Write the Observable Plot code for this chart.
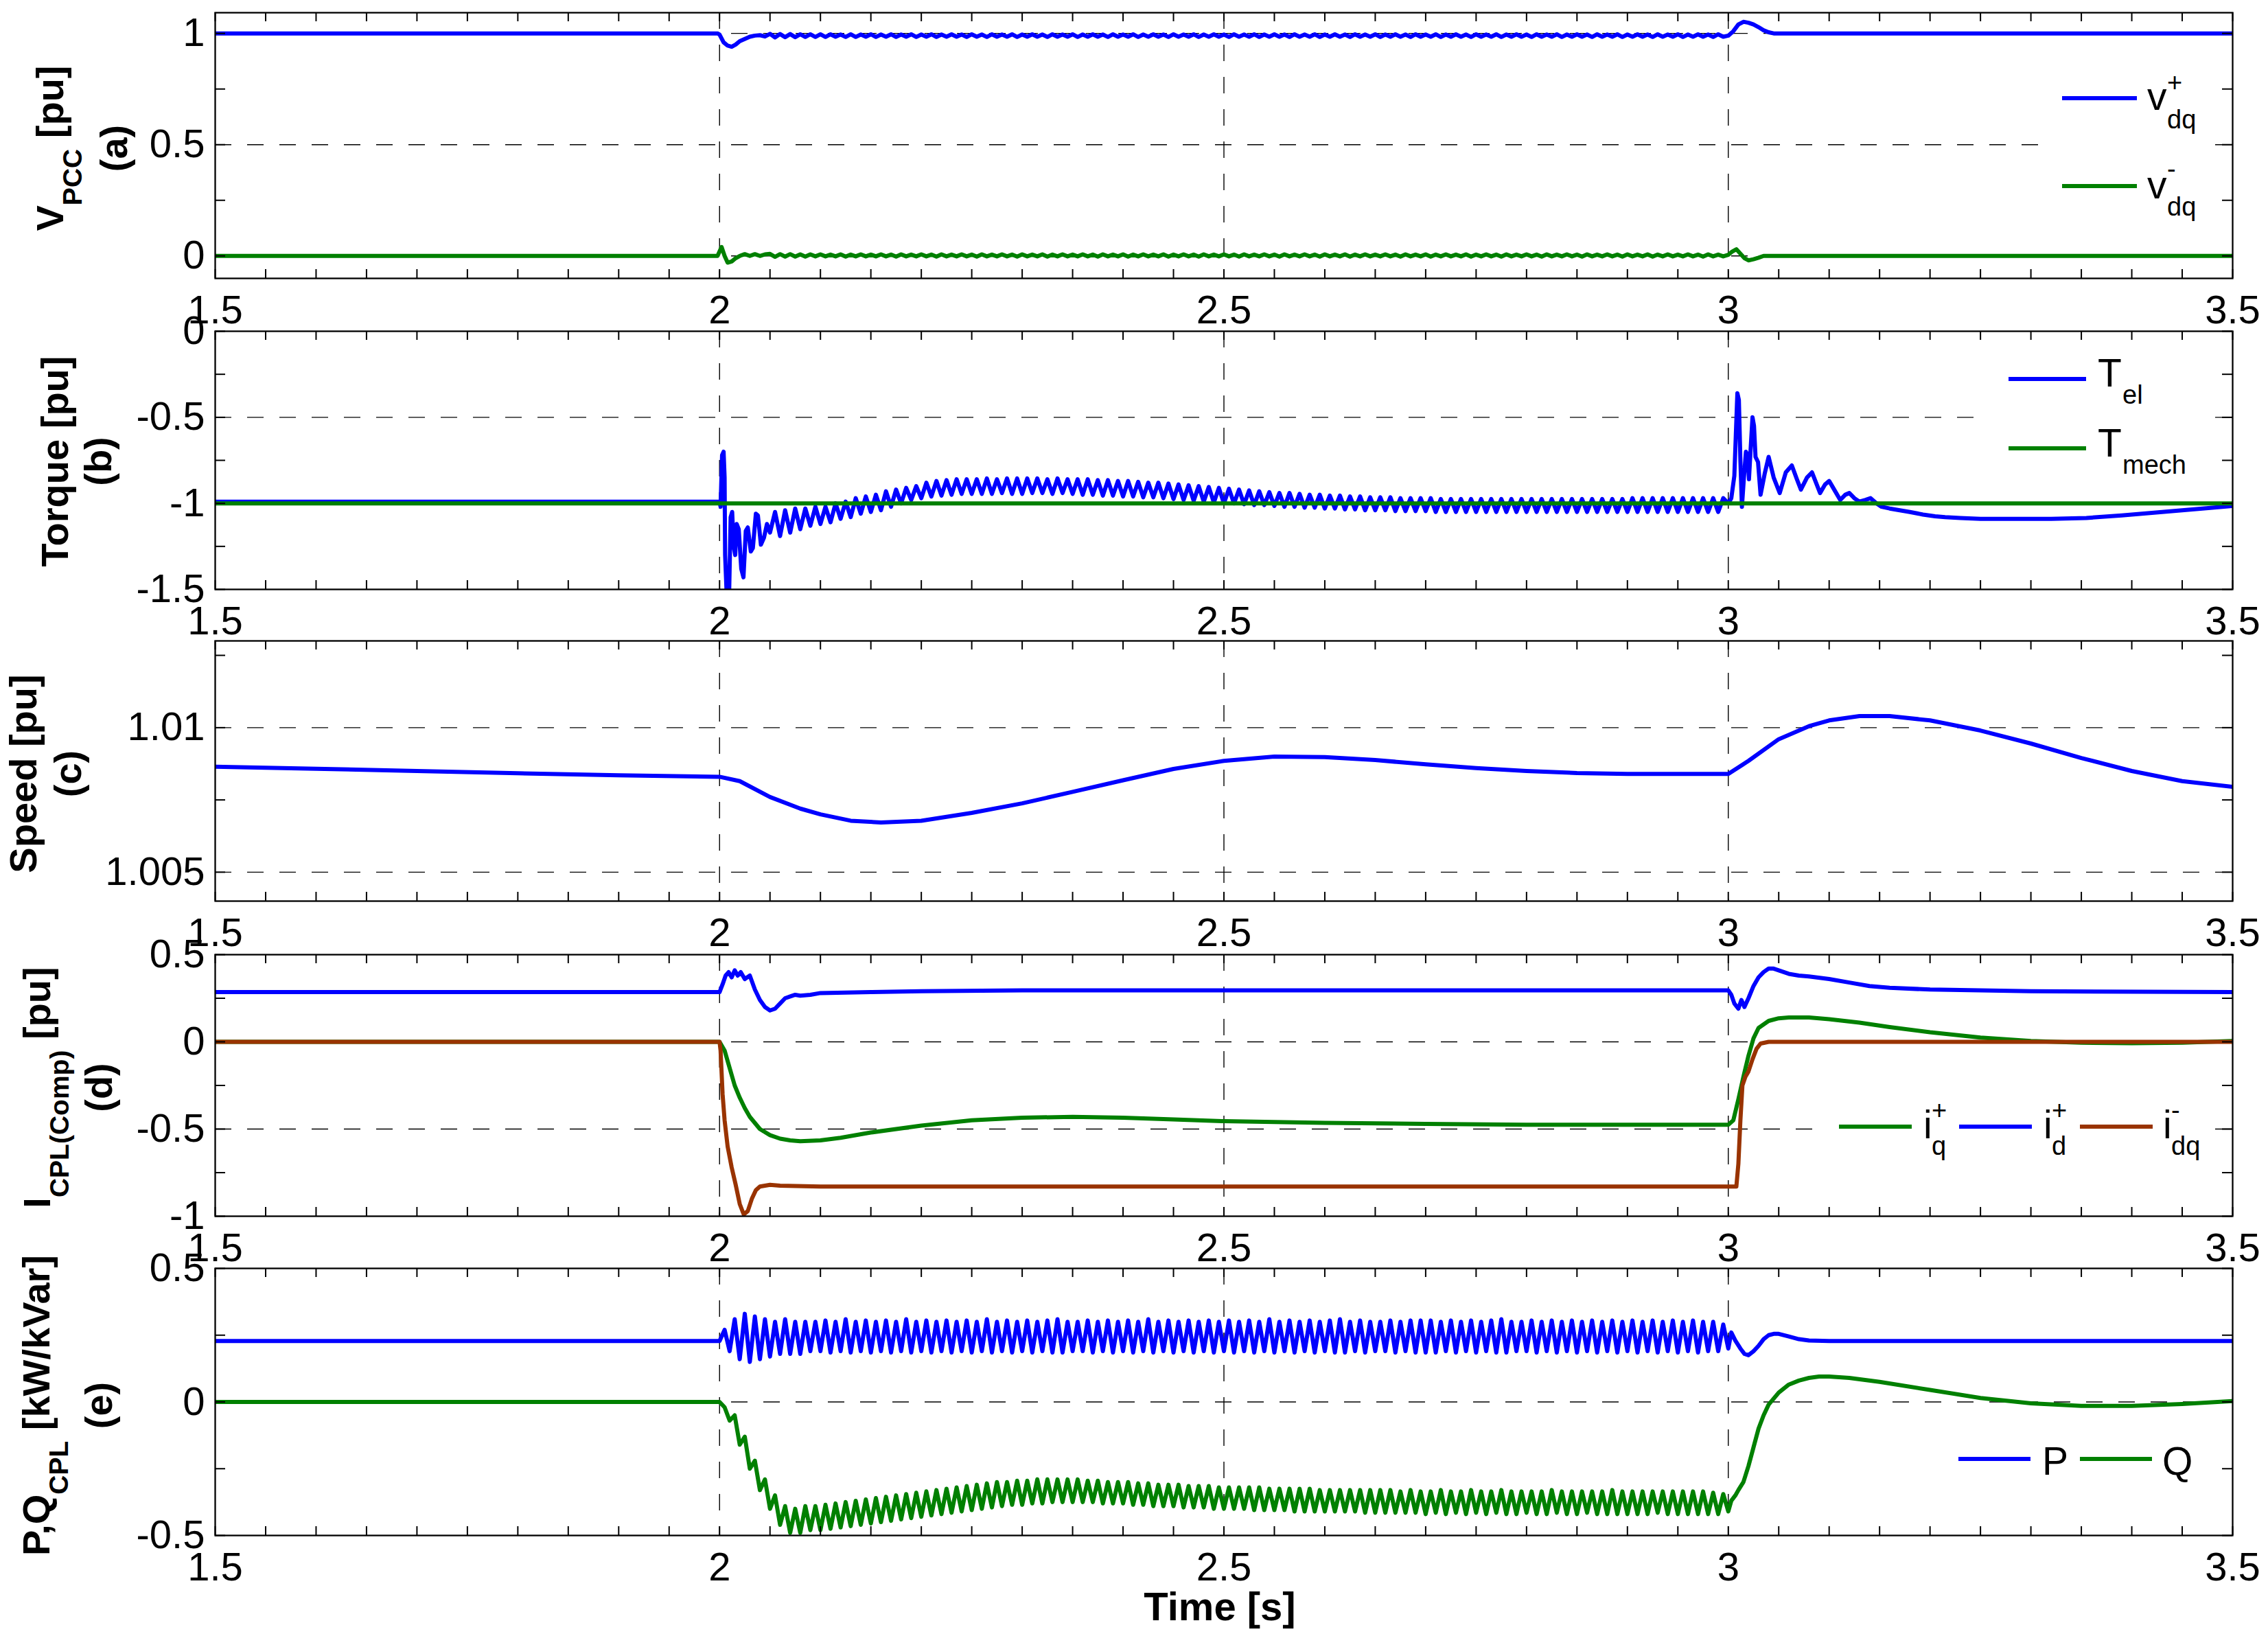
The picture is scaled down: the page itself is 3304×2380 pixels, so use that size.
<!DOCTYPE html>
<html><head><meta charset="utf-8">
<script src="https://cdn.jsdelivr.net/npm/d3@7"></script>
<script src="https://cdn.jsdelivr.net/npm/@observablehq/plot@0.6"></script>
<style>
body{margin:0;background:#fff;}
#fig{position:relative;width:3304px;height:2380px;background:#fff;}
</style></head><body><div id="fig"></div>
<script>
// ---------------- data ----------------
const STEP = 0.005;               // sample step of the ripple segments
const xLabels = [1.5, 2, 2.5, 3, 3.5];
const xGrid = [2, 2.5, 3];

// (a) PCC voltage
const vPosPre = [[1.5,1.0],[1.998,1.0],[2.0,0.995],[2.004,0.96],[2.008,0.945],[2.012,0.94],[2.016,0.95],[2.02,0.965],[2.025,0.975],[2.03,0.985],[2.035,0.99],[2.04,0.992],[2.045,0.986]];
const vPosRippleStart = 2.05;
const vPosRipple = [
 .998,.982,.997,.983,.997,.983,.996,.984,.996,.984,
 .996,.984,.996,.985,.995,.984,.996,.984,.995,.985,
 .996,.984,.995,.985,.996,.984,.995,.985,.996,.984,
 .995,.985,.996,.984,.995,.985,.996,.985,.995,.984,
 .996,.985,.995,.984,.996,.985,.995,.985,.996,.984,
 .995,.985,.996,.985,.995,.984,.996,.985,.995,.985,
 .996,.984,.995,.985,.996,.985,.995,.984,.996,.985,
 .995,.985,.996,.984,.995,.985,.996,.985,.995,.984,
 .996,.985,.995,.985,.996,.984,.995,.985,.996,.985,
 .995,.984,.996,.985,.995,.985,.996,.984,.995,.985,
 .996,.985,.995,.984,.996,.985,.995,.985,.996,.984,
 .995,.985,.996,.985,.995,.984,.996,.985,.995,.985,
 .996,.984,.995,.985,.996,.985,.995,.984,.996,.985,
 .995,.985,.996,.984,.995,.985,.996,.985,.995,.984,
 .996,.985,.995,.985,.996,.984,.995,.985,.996,.985,
 .995,.984,.996,.985,.995,.985,.996,.984,.995,.985,
 .996,.985,.995,.984,.996,.985,.995,.985,.996,.984,
 .995,.985,.996,.985,.995,.984,.996,.985,.995,.985,
 .996,.984,.995,.985,.996,.985,.995,.984,.996,.985];
const vPosPost = [[3.0,0.99],[3.005,1.01],[3.01,1.04],[3.015,1.052],[3.02,1.048],[3.025,1.04],[3.03,1.028],[3.035,1.014],[3.04,1.005],[3.045,1.0],[3.5,1.0]];

const vNegPre = [[1.5,0],[1.998,0],[2.0,0.02],[2.002,0.04],[2.005,0.0],[2.008,-0.03],[2.012,-0.025],[2.016,-0.01],[2.02,0.0],[2.025,0.008],[2.03,0.0],[2.035,0.008],[2.04,0.0],[2.045,0.007]];
const vNegRippleStart = 2.05;
const vNegRipple = [
 .009,-.004,.008,-.003,.008,-.003,.007,-.003,.007,-.002,
 .007,-.002,.006,-.002,.007,-.003,.006,-.002,.007,-.002,
 .006,-.002,.007,-.002,.006,-.003,.007,-.002,.006,-.002,
 .007,-.002,.006,-.003,.007,-.002,.006,-.002,.007,-.002,
 .006,-.003,.007,-.002,.006,-.002,.007,-.002,.006,-.003,
 .007,-.002,.006,-.002,.007,-.003,.006,-.002,.007,-.002,
 .006,-.002,.007,-.002,.006,-.003,.007,-.002,.006,-.002,
 .007,-.003,.006,-.002,.007,-.002,.006,-.002,.007,-.003,
 .006,-.002,.007,-.002,.006,-.003,.007,-.002,.006,-.002,
 .007,-.002,.006,-.003,.007,-.002,.006,-.002,.007,-.002,
 .006,-.003,.007,-.002,.006,-.002,.007,-.002,.006,-.003,
 .007,-.002,.006,-.002,.007,-.003,.006,-.002,.007,-.002,
 .006,-.002,.007,-.002,.006,-.003,.007,-.002,.006,-.002,
 .007,-.003,.006,-.002,.007,-.002,.006,-.002,.007,-.003,
 .006,-.002,.007,-.002,.006,-.003,.007,-.002,.006,-.002,
 .007,-.002,.006,-.003,.007,-.002,.006,-.002,.007,-.002,
 .006,-.003,.007,-.002,.006,-.002,.007,-.002,.006,-.003,
 .007,-.002,.006,-.002,.007,-.003,.006,-.002,.007,-.002,
 .006,-.002,.007,-.002,.006,-.003,.007,-.002,.006,-.002];
const vNegPost = [[3.0,0.005],[3.004,0.02],[3.008,0.03],[3.012,0.01],[3.016,-0.01],[3.02,-0.02],[3.025,-0.015],[3.03,-0.008],[3.035,0.0],[3.5,0.0]];

// (b) torque
const tMech = [[1.5,-1.0],[3.5,-1.0]];
const tElPre = [[1.5,-0.99],[2.0,-0.99],[2.001,-1.02],[2.0025,-0.72],[2.004,-0.70],[2.005,-0.85],[2.0055,-1.3],[2.007,-1.52],[2.0095,-1.52],[2.011,-1.08],[2.0125,-1.05],[2.014,-1.25],[2.0155,-1.3],[2.017,-1.12],[2.019,-1.15],[2.0215,-1.38],[2.0237,-1.43],[2.026,-1.16],[2.028,-1.14],[2.031,-1.28],[2.033,-1.26],[2.036,-1.06],[2.038,-1.07],[2.041,-1.24],[2.044,-1.2],[2.047,-1.12]];
const tElRippleStart = 2.05;
const tElRipple = [
 -1.17,-1.05,-1.19,-1.04,-1.17,-1.03,-1.15,-1.03,-1.13,-1.02,
 -1.12,-1.02,-1.11,-1.0,-1.09,-0.99,-1.08,-0.97,-1.06,-0.96,
 -1.05,-0.95,-1.04,-0.93,-1.02,-0.92,-1.0,-0.91,-0.98,-0.90,
 -0.97,-0.88,-0.96,-0.87,-0.955,-0.865,-0.95,-0.86,-0.945,-0.86,
 -0.945,-0.86,-0.945,-0.855,-0.945,-0.86,-0.94,-0.855,-0.945,-0.855,
 -0.945,-0.855,-0.94,-0.855,-0.94,-0.86,-0.945,-0.855,-0.94,-0.86,
 -0.945,-0.86,-0.95,-0.86,-0.95,-0.865,-0.955,-0.865,-0.955,-0.87,
 -0.96,-0.87,-0.96,-0.875,-0.965,-0.88,-0.965,-0.88,-0.97,-0.885,
 -0.975,-0.89,-0.98,-0.895,-0.985,-0.90,-0.99,-0.905,-0.995,-0.91,
 -1.0,-0.915,-1.0,-0.92,-1.005,-0.925,-1.01,-0.93,-1.01,-0.935,
 -1.015,-0.94,-1.02,-0.94,-1.02,-0.945,-1.025,-0.95,-1.025,-0.95,
 -1.03,-0.955,-1.03,-0.955,-1.035,-0.96,-1.035,-0.96,-1.04,-0.965,
 -1.04,-0.965,-1.04,-0.965,-1.045,-0.97,-1.045,-0.97,-1.045,-0.97,
 -1.045,-0.97,-1.05,-0.975,-1.05,-0.975,-1.05,-0.975,-1.05,-0.975,
 -1.05,-0.975,-1.05,-0.975,-1.05,-0.975,-1.05,-0.975,-1.05,-0.975,
 -1.05,-0.975,-1.05,-0.975,-1.05,-0.975,-1.05,-0.975,-1.05,-0.975,
 -1.05,-0.975,-1.05,-0.975,-1.05,-0.975,-1.05,-0.975,-1.05,-0.975,
 -1.05,-0.97,-1.05,-0.97,-1.05,-0.97,-1.05,-0.97,-1.05,-0.97,
 -1.05,-0.97,-1.05,-0.97,-1.05,-0.97,-1.05,-0.97,-1.05,-0.97];
const tElPost = [[3.0,-1.0],[3.003,-0.97],[3.006,-0.84],[3.0075,-0.6],[3.009,-0.36],[3.0105,-0.40],[3.012,-0.75],[3.0135,-1.02],[3.0155,-0.85],[3.0175,-0.70],[3.019,-0.72],[3.0205,-0.86],[3.022,-0.7],[3.024,-0.50],[3.0255,-0.55],[3.027,-0.73],[3.0295,-0.76],[3.032,-0.95],[3.036,-0.83],[3.04,-0.73],[3.045,-0.85],[3.051,-0.94],[3.057,-0.82],[3.063,-0.78],[3.068,-0.86],[3.072,-0.92],[3.078,-0.85],[3.083,-0.82],[3.087,-0.88],[3.091,-0.94],[3.096,-0.89],[3.1,-0.87],[3.105,-0.92],[3.111,-0.98],[3.116,-0.95],[3.12,-0.94],[3.125,-0.97],[3.13,-0.99],[3.136,-0.98],[3.141,-0.97],[3.147,-1.0],[3.152,-1.02],[3.16,-1.03],[3.17,-1.04],[3.18,-1.05],[3.193,-1.065],[3.205,-1.075],[3.215,-1.08],[3.23,-1.085],[3.25,-1.09],[3.3,-1.09],[3.32,-1.09],[3.355,-1.085],[3.39,-1.07],[3.43,-1.05],[3.47,-1.03],[3.5,-1.015]];

// (c) speed
const speed = [[1.5,1.00865],[1.6,1.00858],[1.7,1.0085],[1.8,1.00842],[1.9,1.00835],[2.0,1.0083],[2.02,1.00815],[2.05,1.0076],[2.08,1.0072],[2.1,1.0070],[2.13,1.00678],[2.16,1.00672],[2.2,1.00678],[2.25,1.00705],[2.3,1.00738],[2.35,1.00778],[2.4,1.00818],[2.45,1.00857],[2.5,1.00885],[2.55,1.009],[2.6,1.00898],[2.65,1.00888],[2.7,1.00873],[2.75,1.0086],[2.8,1.0085],[2.85,1.00843],[2.9,1.0084],[2.95,1.0084],[3.0,1.0084],[3.02,1.00885],[3.05,1.0096],[3.08,1.01005],[3.1,1.01025],[3.13,1.0104],[3.16,1.0104],[3.2,1.01025],[3.25,1.0099],[3.3,1.00945],[3.35,1.00895],[3.4,1.0085],[3.45,1.00815],[3.5,1.00795]];

// (d) compensating currents
const iqPos = [[1.5,0],[2.0,0],[2.005,-0.05],[2.01,-0.15],[2.015,-0.25],[2.02,-0.32],[2.025,-0.38],[2.03,-0.43],[2.04,-0.5],[2.05,-0.535],[2.06,-0.555],[2.07,-0.565],[2.08,-0.57],[2.1,-0.565],[2.12,-0.55],[2.15,-0.52],[2.2,-0.48],[2.25,-0.45],[2.3,-0.435],[2.35,-0.43],[2.4,-0.435],[2.45,-0.445],[2.5,-0.455],[2.6,-0.465],[2.7,-0.47],[2.8,-0.475],[2.9,-0.475],[3.0,-0.475],[3.005,-0.45],[3.01,-0.33],[3.015,-0.2],[3.02,-0.08],[3.025,0.02],[3.03,0.08],[3.04,0.12],[3.05,0.135],[3.06,0.14],[3.08,0.14],[3.1,0.13],[3.13,0.11],[3.16,0.085],[3.2,0.055],[3.25,0.025],[3.3,0.005],[3.35,-0.005],[3.4,-0.008],[3.45,-0.005],[3.5,0.005]];
const idPos = [[1.5,0.285],[2.0,0.285],[2.003,0.33],[2.006,0.38],[2.009,0.40],[2.012,0.37],[2.015,0.41],[2.018,0.38],[2.021,0.40],[2.025,0.36],[2.03,0.38],[2.035,0.30],[2.04,0.24],[2.045,0.20],[2.05,0.18],[2.055,0.19],[2.06,0.22],[2.065,0.25],[2.07,0.26],[2.075,0.27],[2.08,0.265],[2.09,0.27],[2.1,0.28],[2.15,0.285],[2.2,0.29],[2.3,0.295],[2.5,0.295],[2.8,0.295],[3.0,0.295],[3.003,0.27],[3.006,0.22],[3.01,0.19],[3.013,0.24],[3.016,0.20],[3.02,0.25],[3.025,0.32],[3.03,0.37],[3.035,0.40],[3.04,0.42],[3.045,0.42],[3.05,0.41],[3.06,0.39],[3.07,0.38],[3.08,0.375],[3.1,0.36],[3.12,0.34],[3.14,0.32],[3.16,0.31],[3.2,0.30],[3.3,0.29],[3.5,0.285]];
const idqNeg = [[1.5,0],[2.0,0],[2.001,-0.05],[2.003,-0.3],[2.005,-0.45],[2.008,-0.6],[2.012,-0.72],[2.016,-0.82],[2.02,-0.93],[2.024,-0.99],[2.028,-0.97],[2.032,-0.9],[2.036,-0.85],[2.04,-0.83],[2.05,-0.82],[2.06,-0.825],[2.1,-0.83],[2.5,-0.83],[3.0,-0.83],[3.008,-0.83],[3.01,-0.7],[3.012,-0.45],[3.014,-0.25],[3.017,-0.2],[3.02,-0.17],[3.024,-0.1],[3.028,-0.04],[3.032,-0.01],[3.04,0.0],[3.5,0.0]];

// (e) CPL power
const pPre = [[1.5,0.228],[2.0,0.228]];
const pRippleStart = 2.005;
const pRipple = [
 .27,.19,.31,.16,.33,.15,.32,.16,.31,.17,
 .30,.18,.31,.18,.30,.18,.30,.19,.30,.19,
 .305,.185,.30,.19,.31,.185,.30,.19,.305,.185,
 .30,.19,.305,.185,.30,.19,.31,.185,.30,.19,
 .305,.185,.30,.19,.305,.185,.30,.19,.305,.185,
 .30,.19,.31,.185,.30,.19,.305,.185,.30,.19,
 .305,.185,.30,.19,.305,.185,.31,.185,.30,.19,
 .30,.19,.305,.185,.30,.19,.305,.185,.30,.19,
 .305,.185,.30,.19,.31,.185,.30,.19,.305,.185,
 .30,.19,.305,.185,.30,.19,.305,.185,.30,.19,
 .305,.185,.30,.19,.305,.185,.30,.19,.31,.185,
 .30,.19,.305,.185,.30,.19,.305,.185,.30,.19,
 .305,.185,.31,.185,.30,.19,.305,.185,.30,.19,
 .30,.19,.305,.185,.30,.19,.305,.185,.305,.185,
 .305,.185,.30,.19,.305,.185,.30,.19,.305,.185,
 .30,.19,.305,.185,.31,.185,.30,.19,.30,.19,
 .305,.185,.30,.19,.305,.185,.30,.19,.305,.185,
 .30,.19,.305,.185,.30,.19,.305,.185,.30,.19,
 .305,.185,.30,.19,.305,.185,.30,.19,.305,.185,
 .30,.19,.305,.185,.30,.19,.30,.19,.29,.20];
const pPost = [[3.003,0.26],[3.007,0.23],[3.012,0.2],[3.016,0.18],[3.02,0.175],[3.025,0.19],[3.03,0.21],[3.035,0.235],[3.04,0.25],[3.045,0.255],[3.05,0.255],[3.06,0.245],[3.07,0.235],[3.08,0.23],[3.1,0.228],[3.5,0.228]];

const qPre = [[1.5,0],[2.0,0]];
const qRippleStart = 2.005;
const qRipple = [
 -.02,-.07,-.05,-.16,-.13,-.25,-.22,-.33,-.29,-.40,
 -.35,-.46,-.39,-.49,-.40,-.49,-.39,-.48,-.39,-.48,
 -.385,-.475,-.38,-.47,-.375,-.465,-.37,-.46,-.365,-.455,
 -.36,-.45,-.355,-.445,-.35,-.44,-.345,-.435,-.34,-.43,
 -.335,-.425,-.33,-.42,-.325,-.415,-.32,-.41,-.315,-.405,
 -.31,-.40,-.305,-.395,-.30,-.39,-.30,-.385,-.295,-.385,
 -.295,-.38,-.29,-.38,-.29,-.375,-.29,-.375,-.29,-.375,
 -.29,-.375,-.295,-.375,-.295,-.38,-.30,-.38,-.30,-.38,
 -.30,-.385,-.305,-.385,-.305,-.39,-.31,-.39,-.31,-.39,
 -.31,-.395,-.315,-.395,-.315,-.395,-.315,-.40,-.32,-.40,
 -.32,-.40,-.32,-.40,-.32,-.405,-.32,-.405,-.325,-.405,
 -.325,-.405,-.325,-.41,-.325,-.41,-.325,-.41,-.33,-.41,
 -.33,-.41,-.33,-.41,-.33,-.41,-.33,-.415,-.33,-.415,
 -.33,-.415,-.33,-.415,-.335,-.415,-.33,-.415,-.335,-.42,
 -.335,-.415,-.33,-.42,-.335,-.415,-.335,-.42,-.33,-.415,
 -.335,-.42,-.335,-.415,-.33,-.42,-.335,-.42,-.335,-.415,
 -.335,-.42,-.335,-.42,-.33,-.415,-.335,-.42,-.335,-.42,
 -.335,-.415,-.335,-.42,-.335,-.42,-.33,-.42,-.335,-.42,
 -.335,-.42,-.335,-.42,-.335,-.415,-.335,-.42,-.335,-.42,
 -.335,-.42,-.335,-.42,-.335,-.42,-.34,-.42,-.345,-.41];
const qPost = [[3.003,-0.37],[3.007,-0.35],[3.01,-0.33],[3.015,-0.3],[3.02,-0.24],[3.025,-0.17],[3.03,-0.1],[3.035,-0.05],[3.04,-0.01],[3.05,0.035],[3.06,0.065],[3.07,0.08],[3.08,0.09],[3.09,0.095],[3.1,0.095],[3.12,0.09],[3.15,0.075],[3.2,0.045],[3.25,0.015],[3.3,-0.005],[3.35,-0.015],[3.4,-0.015],[3.45,-0.008],[3.5,0.003]];

// ---------------- build tables ----------------
function build(pre, ripple, start, post) {
  const out = pre.map(([t, v]) => ({t, v}));
  (ripple || []).forEach((v, i) => out.push({t: start + i * STEP, v}));
  (post || []).forEach(([t, v]) => out.push({t, v}));
  return out;
}
const BLUE = "#0000ff", GREEN = "#008000", BROWN = "#993300";
const FONT = "'Liberation Sans', Arial, Helvetica, sans-serif";
const W = 3304, H = 2380, L = 313, R = 3252;
const LW = 6;

const panels = [
  {top: 18, bottom: 405, domain: [-0.101, 1.093], labels: [0, 0.5, 1], minor: [0, 0.25, 0.5, 0.75, 1], grid: [0, 0.5, 1],
   series: [{d: build(vPosPre, vPosRipple, vPosRippleStart, vPosPost), c: BLUE}, {d: build(vNegPre, vNegRipple, vNegRippleStart, vNegPost), c: GREEN}]},
  {top: 482, bottom: 858, domain: [-1.5, 0], labels: [-1.5, -1, -0.5, 0], minor: [-1.5, -1.25, -1, -0.75, -0.5, -0.25, 0], grid: [-1, -0.5],
   series: [{d: build(tElPre, tElRipple, tElRippleStart, tElPost), c: BLUE}, {d: build(tMech), c: GREEN}]},
  {top: 933, bottom: 1312, domain: [1.004, 1.013], labels: [1.005, 1.01], minor: [1.005, 1.0075, 1.01, 1.0125], grid: [1.005, 1.01],
   series: [{d: build(speed), c: BLUE}]},
  {top: 1390, bottom: 1771, domain: [-1, 0.5], labels: [-1, -0.5, 0, 0.5], minor: [-1, -0.75, -0.5, -0.25, 0, 0.25, 0.5], grid: [-0.5, 0],
   series: [{d: build(iqPos), c: GREEN}, {d: build(idPos), c: BLUE}, {d: build(idqNeg), c: BROWN}]},
  {top: 1847, bottom: 2236, domain: [-0.5, 0.5], labels: [-0.5, 0, 0.5], minor: [-0.5, -0.25, 0, 0.25, 0.5], grid: [0],
   series: [{d: build(pPre, pRipple, pRippleStart, pPost), c: BLUE}, {d: build(qPre, qRipple, qRippleStart, qPost), c: GREEN}]}
];
const xMinor = d3.range(0, 41).map(i => 1.5 + i * 0.05);

const fig = document.getElementById("fig");
const gridStyle = {stroke: "black", strokeOpacity: 1, strokeWidth: 1.4, strokeDasharray: "24,23"};
panels.forEach(p => {
  const mt = 20, mb = 100, h = p.bottom - p.top;
  const svg = Plot.plot({
    width: W, height: h + mt + mb,
    marginLeft: L, marginRight: W - R, marginTop: mt, marginBottom: mb,
    style: {background: "transparent", overflow: "visible", color: "black", fontFamily: FONT, fontSize: "58px", position: "absolute", left: "0px", top: (p.top - mt) + "px"},
    x: {domain: [1.5, 3.5], label: null},
    y: {domain: p.domain, label: null},
    marks: [
      Plot.gridX(xGrid, gridStyle),
      Plot.gridY(p.grid, gridStyle),
      ...p.series.map(s => Plot.line(s.d, {x: "t", y: "v", stroke: s.c, strokeWidth: LW, clip: true})),
      Plot.ruleX(xMinor, {stroke: "black", strokeWidth: 2, insetBottom: h - 13}),
      Plot.ruleX(xMinor, {stroke: "black", strokeWidth: 2, insetTop: h - 13}),
      Plot.ruleY(p.minor, {stroke: "black", strokeWidth: 2, insetRight: (R - L) - 15}),
      Plot.ruleY(p.minor, {stroke: "black", strokeWidth: 2, insetLeft: (R - L) - 15}),
      Plot.frame({stroke: "black", strokeWidth: 2.3}),
      Plot.axisX(xLabels, {anchor: "bottom", tickSize: 0, tickPadding: 24, tickFormat: d => String(d), label: null, fontSize: 58}),
      Plot.axisY(p.labels, {anchor: "left", tickSize: 0, tickPadding: 15, tickFormat: d => String(d), label: null, fontSize: 58})
    ]
  });
  fig.appendChild(svg);
});

// ---------------- overlay: axis titles & legends ----------------
const ov = d3.select(fig).append("svg")
  .attr("width", W).attr("height", H)
  .style("position", "absolute").style("left", "0px").style("top", "0px").style("overflow", "visible")
  .attr("font-family", FONT).style("white-space", "pre");

const yTitles = [
  {cy: 216, x1: 92, x2: 185, line1: [["V"], ["PCC", "sub"], [" [pu]"]], line2: "(a)"},
  {cy: 672, x1: 99, x2: 162, line1: [["Torque [pu]"]], line2: "(b)"},
  {cy: 1127, x1: 53, x2: 118, line1: [["Speed [pu]"]], line2: "(c)"},
  {cy: 1584, x1: 73, x2: 163, line1: [["I"], ["CPL(Comp)", "sub"], ["  [pu]"]], line2: "(d)"},
  {cy: 2047, x1: 72, x2: 163, line1: [["P,Q"], ["CPL", "sub"], [" [kW/kVar]"]], line2: "(e)"}
];
yTitles.forEach(s => {
  const g = ov.append("g").attr("font-weight", "bold").attr("font-size", 56).attr("fill", "black");
  const t1 = g.append("text").attr("transform", `translate(${s.x1},${s.cy}) rotate(-90)`).attr("text-anchor", "middle");
  let shift = 0;
  s.line1.forEach(([str, kind]) => {
    const ts = t1.append("tspan").text(str);
    if (kind === "sub") { ts.attr("font-size", 39).attr("dy", 27); shift = 27; }
    else if (shift) { ts.attr("dy", -shift); shift = 0; }
  });
  g.append("text").attr("transform", `translate(${s.x2},${s.cy}) rotate(-90)`).attr("text-anchor", "middle").text(s.line2);
});

ov.append("text").attr("x", 1777).attr("y", 2360).attr("text-anchor", "middle")
  .attr("font-weight", "bold").attr("font-size", 58).text("Time [s]");

// legends (white background, no border, as in the original)
const legendBoxes = [[2980, 92, 240, 240], [2890, 497, 330, 205], [2650, 1594, 570, 108], [2840, 2088, 380, 92]];
legendBoxes.forEach(([x, y, w, h]) => ov.append("rect").attr("x", x).attr("y", y).attr("width", w).attr("height", h).attr("fill", "white"));

const legendItems = [
  {x1: 3004, x2: 3113, y: 143, c: BLUE, tx: 3128, base: 160, main: "v", sx: 3157, sup: "+", supBase: 133, sub: "dq", subBase: 187},
  {x1: 3004, x2: 3113, y: 271, c: GREEN, tx: 3128, base: 289, main: "v", sx: 3157, sup: "-", supBase: 259, sub: "dq", subBase: 314},
  {x1: 2926, x2: 3039, y: 552, c: BLUE, tx: 3056, base: 563, main: "T", sx: 3092, sub: "el", subBase: 588},
  {x1: 2926, x2: 3039, y: 653, c: GREEN, tx: 3056, base: 665, main: "T", sx: 3092, sub: "mech", subBase: 690},
  {x1: 2679, x2: 2785, y: 1641, c: GREEN, tx: 2802, base: 1658, main: "i", sx: 2814, sup: "+", supBase: 1630, sub: "q", subBase: 1682},
  {x1: 2854, x2: 2960, y: 1641, c: BLUE, tx: 2977, base: 1658, main: "i", sx: 2989, sup: "+", supBase: 1630, sub: "d", subBase: 1682},
  {x1: 3030, x2: 3136, y: 1641, c: BROWN, tx: 3151, base: 1658, main: "i", sx: 3163, sup: "-", supBase: 1630, sub: "dq", subBase: 1682},
  {x1: 2853, x2: 2958, y: 2125, c: BLUE, tx: 2975, base: 2148, main: "P"},
  {x1: 3030, x2: 3135, y: 2125, c: GREEN, tx: 3150, base: 2148, main: "Q"}
];
legendItems.forEach(it => {
  ov.append("line").attr("x1", it.x1).attr("x2", it.x2).attr("y1", it.y).attr("y2", it.y)
    .attr("stroke", it.c).attr("stroke-width", LW);
  ov.append("text").attr("x", it.tx).attr("y", it.base).attr("font-size", 57).text(it.main);
  if (it.sup) ov.append("text").attr("x", it.sx).attr("y", it.supBase).attr("font-size", 38).text(it.sup);
  if (it.sub) ov.append("text").attr("x", it.sx).attr("y", it.subBase).attr("font-size", 38).text(it.sub);
});
</script></body></html>
